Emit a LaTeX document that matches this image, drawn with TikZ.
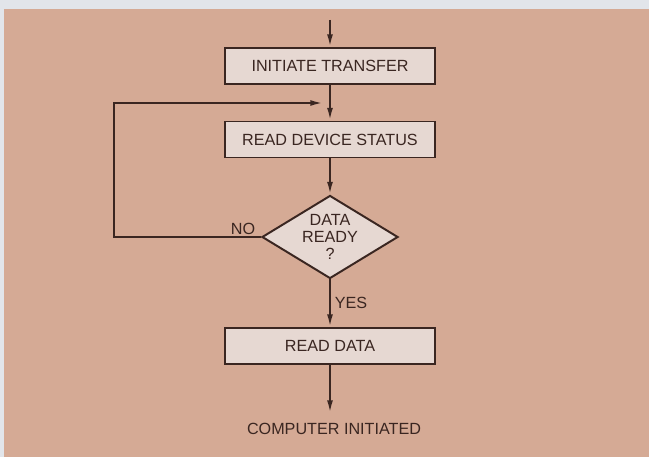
\documentclass[tikz,border=0pt]{standalone}
\usepackage{fontspec}
\setsansfont{Liberation Sans}
\usetikzlibrary{arrows.meta,shapes.geometric}
\definecolor{paper}{HTML}{D5AA95}
\definecolor{rim}{HTML}{E2E5EA}
\definecolor{boxfill}{HTML}{E6D8D2}
\definecolor{ink}{HTML}{3A2621}

\begin{document}
\begin{tikzpicture}[x=0.025cm,y=-0.025cm,
  font=\sffamily\fontsize{11.5}{12}\selectfont, >={Latex[length=9pt,width=4.2pt]},
  stepbox/.style={draw=ink, fill=boxfill, line width=1.4pt, text=ink, minimum width=5.225cm, minimum height=0.9cm, inner sep=0pt},
  testbox/.style={diamond, aspect=1.64, draw=ink, fill=boxfill, line width=1.4pt, text=ink, align=center, minimum width=3.4cm, minimum height=2.075cm, inner sep=0pt},
  lbl/.style={text=ink, inner sep=0pt},
  flowarr/.style={->, line width=1.4pt, color=ink},
]

% sheet
\fill[rim] (0,0) rectangle (649,457);
\fill[paper] (4,9) rectangle (649,457);
\useasboundingbox (0,0) rectangle (649,457);

\coordinate (entry) at (330,20);
\node[stepbox] (init) at (330,66) {INITIATE TRANSFER};
\coordinate (join) at (330,103);
\node[stepbox] (status) at (330,139.5) {READ DEVICE STATUS};
\node[testbox] (ready) at (330,237) {DATA\\READY\\?};
\node[stepbox] (read) at (330,346) {READ DATA};
\coordinate (exit) at (330,413);
\node[lbl] (comp) at (334,429) {COMPUTER INITIATED};
\node[lbl] (no) at (243,229) {NO};
\node[lbl] (yes) at (351,303) {YES};

\draw[flowarr] (entry) -- (init);
\draw[flowarr] (init) -- (status);
\draw[flowarr,shorten >=5pt] (ready.west) -- ++(-147,0) |- (join);
\draw[flowarr] (status) -- (ready);
\draw[flowarr] (ready) -- (read);
\draw[flowarr] (read) -- (exit);

\end{tikzpicture}
\end{document}
